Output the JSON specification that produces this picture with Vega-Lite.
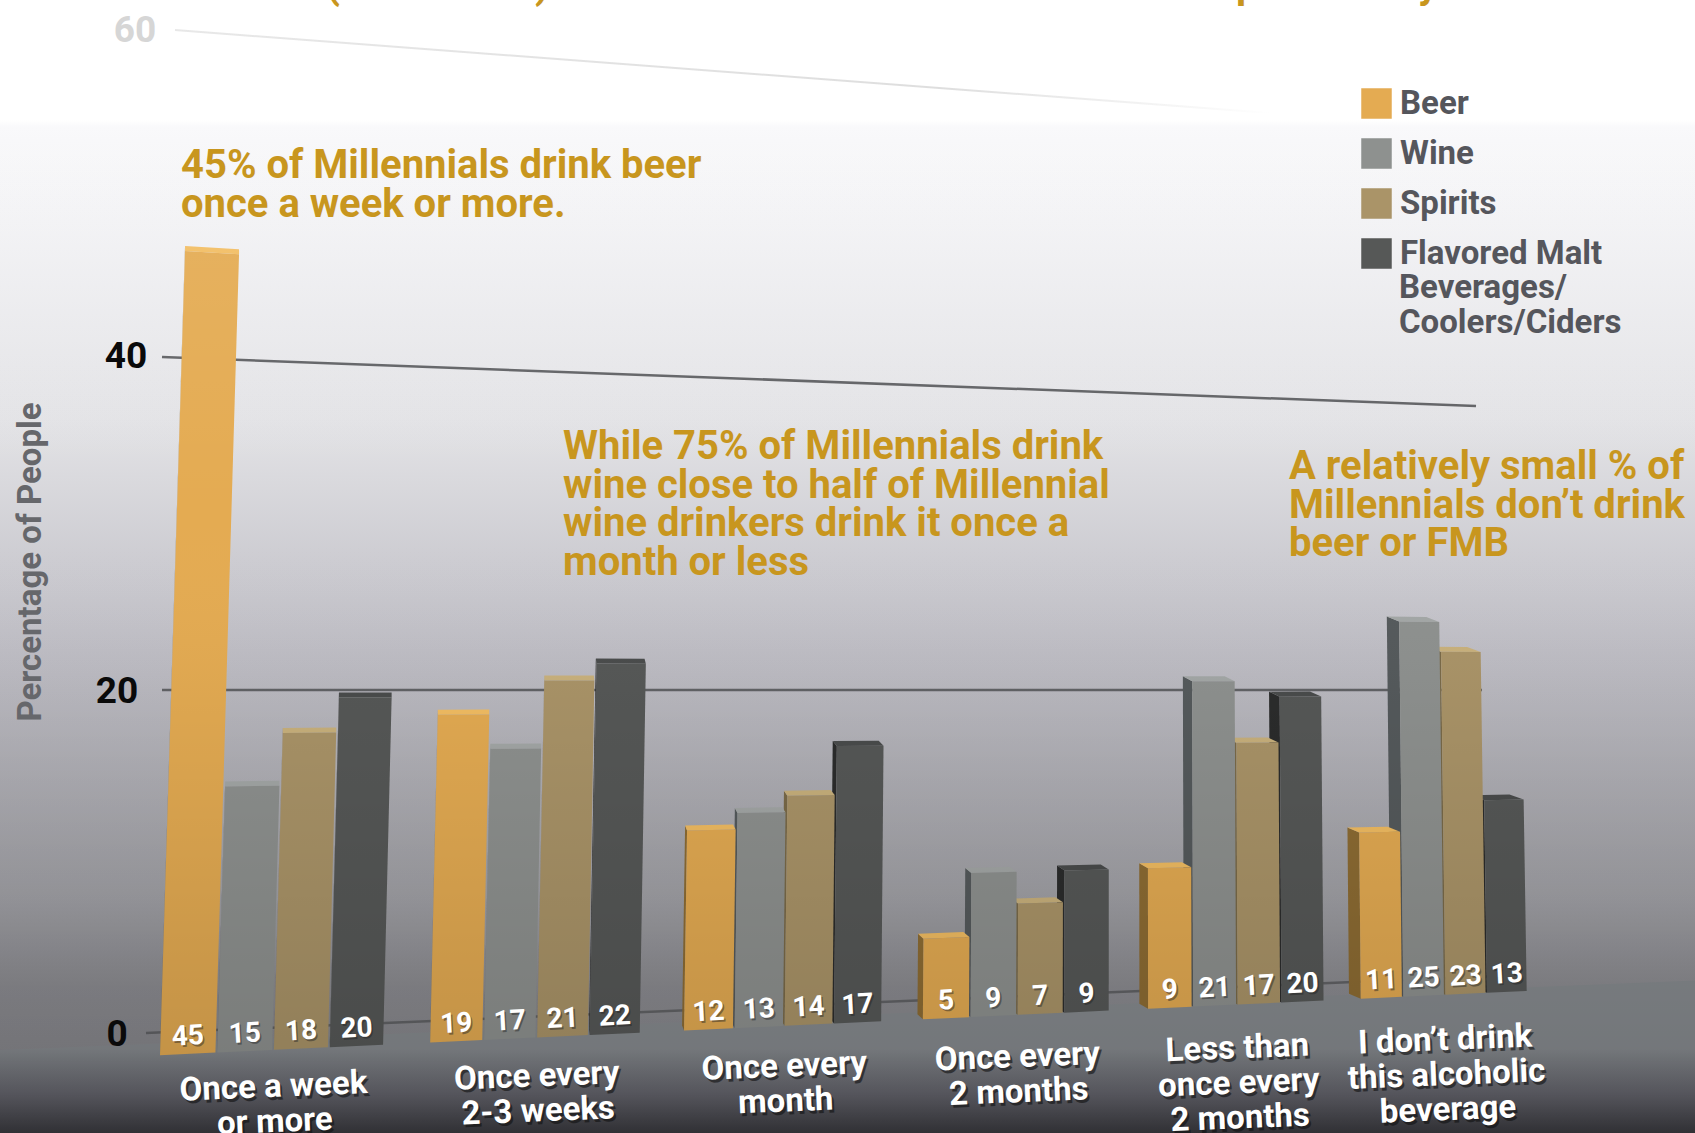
{
  "$schema": "https://vega.github.io/schema/vega-lite/v6.json",
  "width": 1695,
  "height": 1133,
  "padding": 0,
  "autosize": {"type": "none"},
  "config": {
    "view": {"stroke": null},
    "text": {"font": "Roboto"}
  },
  "datasets": {
    "bars": [
      {"group": "Once a week\nor more", "drink": "Beer", "value": 45},
      {"group": "Once a week\nor more", "drink": "Wine", "value": 15},
      {"group": "Once a week\nor more", "drink": "Spirits", "value": 18},
      {"group": "Once a week\nor more", "drink": "Flavored Malt", "value": 20},
      {"group": "Once every\n2-3 weeks", "drink": "Beer", "value": 19},
      {"group": "Once every\n2-3 weeks", "drink": "Wine", "value": 17},
      {"group": "Once every\n2-3 weeks", "drink": "Spirits", "value": 21},
      {"group": "Once every\n2-3 weeks", "drink": "Flavored Malt", "value": 22},
      {"group": "Once every\nmonth", "drink": "Beer", "value": 12},
      {"group": "Once every\nmonth", "drink": "Wine", "value": 13},
      {"group": "Once every\nmonth", "drink": "Spirits", "value": 14},
      {"group": "Once every\nmonth", "drink": "Flavored Malt", "value": 17},
      {"group": "Once every\n2 months", "drink": "Beer", "value": 5},
      {"group": "Once every\n2 months", "drink": "Wine", "value": 9},
      {"group": "Once every\n2 months", "drink": "Spirits", "value": 7},
      {"group": "Once every\n2 months", "drink": "Flavored Malt", "value": 9},
      {"group": "Less than\nonce every\n2 months", "drink": "Beer", "value": 9},
      {"group": "Less than\nonce every\n2 months", "drink": "Wine", "value": 21},
      {"group": "Less than\nonce every\n2 months", "drink": "Spirits", "value": 17},
      {"group": "Less than\nonce every\n2 months", "drink": "Flavored Malt", "value": 20},
      {"group": "I don’t drink\nthis alcoholic\nbeverage", "drink": "Beer", "value": 11},
      {"group": "I don’t drink\nthis alcoholic\nbeverage", "drink": "Wine", "value": 25},
      {"group": "I don’t drink\nthis alcoholic\nbeverage", "drink": "Spirits", "value": 23},
      {"group": "I don’t drink\nthis alcoholic\nbeverage", "drink": "Flavored Malt", "value": 13}
    ],
    "groups": [
      {"group": "Once a week\nor more", "g": 0},
      {"group": "Once every\n2-3 weeks", "g": 1},
      {"group": "Once every\nmonth", "g": 2},
      {"group": "Once every\n2 months", "g": 3},
      {"group": "Less than\nonce every\n2 months", "g": 4},
      {"group": "I don’t drink\nthis alcoholic\nbeverage", "g": 5}
    ],
    "levels": [{"level": 0}, {"level": 20}, {"level": 40}, {"level": 60}]
  },
  "layer": [
    {
      "description": "Backdrop: pale wall darkening towards the floor",
      "data": {"values": [{"panel": "wall"}]},
      "mark": {
        "type": "rect",
        "fill": {
          "gradient": "linear", "x1": 0, "y1": 0, "x2": 0, "y2": 1,
          "stops": [
            {"offset": 0, "color": "#ffffff"},
            {"offset": 0.106, "color": "#ffffff"},
            {"offset": 0.112, "color": "#f9f9fb"},
            {"offset": 0.37, "color": "#e3e3e6"},
            {"offset": 0.574, "color": "#bfbec5"},
            {"offset": 0.794, "color": "#a0a0a5"},
            {"offset": 0.87, "color": "#8b8b90"},
            {"offset": 1, "color": "#808085"}
          ]
        }
      },
      "encoding": {
        "x": {"datum": 0, "type": "quantitative", "axis": null, "scale": {"domain": [0, 1695], "nice": false, "zero": false}},
        "x2": {"datum": 1695},
        "y": {"datum": 0, "type": "quantitative", "axis": null, "scale": {"domain": [1133, 0], "nice": false, "zero": false}},
        "y2": {"datum": 1133}
      }
    },
    {
      "description": "Floor plane running back towards the right",
      "data": {"values": [{"X": 0}, {"X": 1695}]},
      "transform": [{"calculate": "1050 - 0.041 * datum.X", "as": "Y"}],
      "mark": {
        "type": "area",
        "fill": {
          "gradient": "linear", "x1": 0, "y1": 0, "x2": 0, "y2": 1,
          "stops": [
            {"offset": 0, "color": "#868a8e"},
            {"offset": 0.45, "color": "#868a8e"},
            {"offset": 0.75, "color": "#62626a"},
            {"offset": 1, "color": "#38383d"}
          ]
        }
      },
      "encoding": {
        "x": {"field": "X", "type": "quantitative", "axis": null},
        "y": {"field": "Y", "type": "quantitative", "axis": null},
        "y2": {"datum": 1133}
      }
    },
    {
      "description": "Gridlines at 0, 20 and 40 in perspective",
      "data": {"name": "levels"},
      "transform": [
        {"filter": "datum.level < 60"},
        {"calculate": "[146, 162, 162][datum.level / 20]", "as": "x1"},
        {"calculate": "[1520, 1482, 1476][datum.level / 20]", "as": "x2"},
        {"calculate": "[1033, 690, 357][datum.level / 20]", "as": "y1"},
        {"calculate": "[975, 690, 406][datum.level / 20]", "as": "y2"}
      ],
      "mark": {"type": "rule", "strokeWidth": 2.5, "color": "#616265"},
      "encoding": {
        "x": {"field": "x1", "type": "quantitative", "axis": null},
        "x2": {"field": "x2"},
        "y": {"field": "y1", "type": "quantitative", "axis": null},
        "y2": {"field": "y2"}
      }
    },
    {
      "description": "The 60 gridline fades out into the haze",
      "data": {"name": "levels"},
      "transform": [
        {"filter": "datum.level == 60"},
        {"calculate": "175", "as": "x1"},
        {"calculate": "1270", "as": "x2"},
        {"calculate": "30", "as": "y1"},
        {"calculate": "113", "as": "y2"}
      ],
      "mark": {
        "type": "rule",
        "strokeWidth": 2,
        "stroke": {
          "gradient": "linear", "x1": 0, "y1": 0, "x2": 1, "y2": 0,
          "stops": [
            {"offset": 0, "color": "#e6e6e6"},
            {"offset": 0.7, "color": "#dcdcdc"},
            {"offset": 1, "color": "#ffffff"}
          ]
        }
      },
      "encoding": {
        "x": {"field": "x1", "type": "quantitative", "axis": null},
        "x2": {"field": "x2"},
        "y": {"field": "y1", "type": "quantitative", "axis": null},
        "y2": {"field": "y2"}
      }
    },
    {
      "description": "Projected bars: drink and frequency give a slot on the floor, value gives the height",
      "data": {"name": "bars"},
      "transform": [
        {"calculate": "indexof(['Beer', 'Wine', 'Spirits', 'Flavored Malt'], datum.drink)", "as": "s"},
        {"calculate": "indexof(['Once a week\\nor more', 'Once every\\n2-3 weeks', 'Once every\\nmonth', 'Once every\\n2 months', 'Less than\\nonce every\\n2 months', 'I don’t drink\\nthis alcoholic\\nbeverage'], datum.group)", "as": "g"},
        {"calculate": "datum.group + datum.drink", "as": "bar"},
        {"calculate": "[0, 1, 2, 3]", "as": "corner"},
        {"flatten": ["corner"]}
      ],
      "layer": [
        {
          "description": "Left side faces",
          "transform": [
            {"calculate": "datum.g + datum.s * 0.207", "as": "u"},
            {"calculate": "(284.1 * datum.u + 160) / (1 + 0.0323 * datum.u)", "as": "X0"},
            {"calculate": "datum.corner < 2 ? datum.value : 0", "as": "v"},
            {"calculate": "datum.corner == 1 || datum.corner == 2 ? 1 : 0", "as": "back"},
            {"calculate": "datum.X0 + datum.v * 0.00058 * (1120 - datum.X0) - datum.back * max(0, (datum.X0 - 550) * 0.0145)", "as": "px"},
            {"calculate": "1054 - 0.047 * (datum.X0 - 185) - datum.v * (17.87 - 0.0023 * (datum.X0 - 160)) - datum.back * 5", "as": "py"}
          ],
          "mark": {"type": "line", "interpolate": "linear-closed", "strokeWidth": 0},
          "encoding": {
            "x": {"field": "px", "type": "quantitative", "axis": null},
            "y": {"field": "py", "type": "quantitative", "axis": null},
            "order": {"field": "corner"},
            "detail": {"field": "bar"},
            "fill": {
              "field": "drink", "legend": null,
              "scale": {"domain": ["Beer", "Wine", "Spirits", "Flavored Malt"], "range": ["#8d6c33", "#555a5c", "#7a6a48", "#2b2c2c"]}
            }
          }
        },
        {
          "description": "Lit top faces",
          "transform": [
            {"calculate": "datum.g + datum.s * 0.207 + (datum.corner == 1 || datum.corner == 2 ? 0.2 : 0)", "as": "u"},
            {"calculate": "(284.1 * datum.u + 160) / (1 + 0.0323 * datum.u)", "as": "X0"},
            {"calculate": "datum.corner >= 2 ? 1 : 0", "as": "back"},
            {"calculate": "datum.X0 + datum.value * 0.00058 * (1120 - datum.X0) - datum.back * max(0, (datum.X0 - 550) * 0.0145)", "as": "px"},
            {"calculate": "1054 - 0.047 * (datum.X0 - 185) - datum.value * (17.87 - 0.0023 * (datum.X0 - 160)) - datum.back * 5", "as": "py"}
          ],
          "mark": {"type": "line", "interpolate": "linear-closed", "strokeWidth": 0},
          "encoding": {
            "x": {"field": "px", "type": "quantitative", "axis": null},
            "y": {"field": "py", "type": "quantitative", "axis": null},
            "order": {"field": "corner"},
            "detail": {"field": "bar"},
            "fill": {
              "field": "drink", "legend": null,
              "scale": {"domain": ["Beer", "Wine", "Spirits", "Flavored Malt"], "range": ["#f2bd62", "#a3a7a6", "#c9b17c", "#4a4c4c"]}
            }
          }
        },
        {
          "description": "Front faces, which carry the legend",
          "transform": [
            {"calculate": "datum.g + datum.s * 0.207 + (datum.corner == 1 || datum.corner == 2 ? 0.2 : 0)", "as": "u"},
            {"calculate": "(284.1 * datum.u + 160) / (1 + 0.0323 * datum.u)", "as": "X0"},
            {"calculate": "datum.corner < 2 ? datum.value : 0", "as": "v"},
            {"calculate": "datum.X0 + datum.v * 0.00058 * (1120 - datum.X0)", "as": "px"},
            {"calculate": "1054 - 0.047 * (datum.X0 - 185) - datum.v * (17.87 - 0.0023 * (datum.X0 - 160))", "as": "py"}
          ],
          "mark": {"type": "line", "interpolate": "linear-closed", "strokeWidth": 0},
          "encoding": {
            "x": {"field": "px", "type": "quantitative", "axis": null},
            "y": {"field": "py", "type": "quantitative", "axis": null},
            "order": {"field": "corner"},
            "detail": {"field": "bar"},
            "fill": {
              "field": "drink",
              "scale": {"domain": ["Beer", "Wine", "Spirits", "Flavored Malt"], "range": ["#e4ab52", "#8e918f", "#aa9468", "#565857"]},
              "legend": {
                "title": null,
                "orient": "none",
                "legendX": 1360,
                "legendY": 87,
                "symbolType": "square",
                "symbolSize": 930,
                "symbolStrokeWidth": 0,
                "labelFont": "Roboto",
                "labelFontWeight": "bold",
                "labelFontSize": 33,
                "labelColor": "#55565c",
                "labelLimit": 0,
                "labelOffset": 7,
                "rowPadding": 16
              }
            }
          }
        }
      ],
      "resolve": {"scale": {"fill": "independent"}}
    },
    {
      "description": "Shading across the bars and the room",
      "data": {"values": [{"panel": "light"}]},
      "mark": {
        "type": "rect",
        "fill": {
          "gradient": "linear", "x1": 0, "y1": 0, "x2": 0, "y2": 1,
          "stops": [
            {"offset": 0, "color": "rgba(255,255,255,0.07)"},
            {"offset": 0.22, "color": "rgba(255,255,255,0.07)"},
            {"offset": 0.45, "color": "rgba(255,255,255,0)"},
            {"offset": 0.62, "color": "rgba(0,0,0,0.03)"},
            {"offset": 0.935, "color": "rgba(0,0,0,0.14)"},
            {"offset": 1, "color": "rgba(0,0,0,0.14)"}
          ]
        }
      },
      "encoding": {
        "x": {"datum": 0, "type": "quantitative", "axis": null},
        "x2": {"datum": 1695},
        "y": {"datum": 0, "type": "quantitative", "axis": null},
        "y2": {"datum": 1133}
      }
    },
    {
      "description": "Value labels near the foot of each bar, with a soft drop shadow",
      "data": {"name": "bars"},
      "transform": [
        {"calculate": "indexof(['Beer', 'Wine', 'Spirits', 'Flavored Malt'], datum.drink)", "as": "s"},
        {"calculate": "indexof(['Once a week\\nor more', 'Once every\\n2-3 weeks', 'Once every\\nmonth', 'Once every\\n2 months', 'Less than\\nonce every\\n2 months', 'I don’t drink\\nthis alcoholic\\nbeverage'], datum.group)", "as": "g"},
        {"calculate": "datum.g + datum.s * 0.207 + 0.1", "as": "u"},
        {"calculate": "(284.1 * datum.u + 160) / (1 + 0.0323 * datum.u)", "as": "px"},
        {"calculate": "1054 - 0.047 * (datum.px - 185) - 17", "as": "py"}
      ],
      "layer": [
        {
          "mark": {"type": "text", "font": "Roboto", "fontWeight": "bold", "fontSize": 28, "angle": -3, "dx": 1.5, "dy": 2, "color": "#222222", "opacity": 0.45, "baseline": "middle"},
          "encoding": {
            "x": {"field": "px", "type": "quantitative", "axis": null},
            "y": {"field": "py", "type": "quantitative", "axis": null},
            "text": {"field": "value", "type": "quantitative"}
          }
        },
        {
          "mark": {"type": "text", "font": "Roboto", "fontWeight": "bold", "fontSize": 28, "angle": -3, "color": "#ffffff", "baseline": "middle"},
          "encoding": {
            "x": {"field": "px", "type": "quantitative", "axis": null},
            "y": {"field": "py", "type": "quantitative", "axis": null},
            "text": {"field": "value", "type": "quantitative"}
          }
        }
      ]
    },
    {
      "description": "Frequency labels following the slope of the floor",
      "data": {"name": "groups"},
      "transform": [
        {"calculate": "datum.g + 0.41", "as": "u"},
        {"calculate": "(284.1 * datum.u + 160) / (1 + 0.0323 * datum.u)", "as": "px"},
        {"calculate": "1086 - 0.04 * (datum.px - 271) - 15", "as": "py"}
      ],
      "layer": [
        {
          "mark": {"type": "text", "font": "Roboto", "fontWeight": "bold", "fontSize": 33, "lineHeight": 35, "lineBreak": "\n", "angle": -2.3, "align": "center", "baseline": "top", "dx": 2, "dy": 3, "color": "#111111", "opacity": 0.6},
          "encoding": {
            "x": {"field": "px", "type": "quantitative", "axis": null},
            "y": {"field": "py", "type": "quantitative", "axis": null},
            "text": {"field": "group"}
          }
        },
        {
          "mark": {"type": "text", "font": "Roboto", "fontWeight": "bold", "fontSize": 33, "lineHeight": 35, "lineBreak": "\n", "angle": -2.3, "align": "center", "baseline": "top", "color": "#ffffff"},
          "encoding": {
            "x": {"field": "px", "type": "quantitative", "axis": null},
            "y": {"field": "py", "type": "quantitative", "axis": null},
            "text": {"field": "group"}
          }
        }
      ]
    },
    {
      "description": "Percentage tick labels beside the gridlines",
      "data": {"name": "levels"},
      "transform": [
        {"calculate": "[117, 117, 126, 135][datum.level / 20]", "as": "px"},
        {"calculate": "[1035, 692, 357, 31][datum.level / 20]", "as": "py"},
        {"calculate": "datum.level == 60 ? 'faded' : 'solid'", "as": "tone"}
      ],
      "mark": {"type": "text", "font": "Roboto", "fontWeight": "bold", "fontSize": 37, "baseline": "middle"},
      "encoding": {
        "x": {"field": "px", "type": "quantitative", "axis": null},
        "y": {"field": "py", "type": "quantitative", "axis": null},
        "text": {"field": "level", "type": "quantitative"},
        "color": {"field": "tone", "legend": null, "scale": {"domain": ["faded", "solid"], "range": ["#d6d6d6", "#0a0a0a"]}}
      }
    },
    {
      "description": "Axis title",
      "data": {"values": [{"t": "Percentage of People", "px": 31, "py": 562}]},
      "mark": {"type": "text", "font": "Roboto", "fontWeight": "bold", "fontSize": 33, "angle": -90, "color": "#66676b", "baseline": "middle"},
      "encoding": {
        "x": {"field": "px", "type": "quantitative", "axis": null},
        "y": {"field": "py", "type": "quantitative", "axis": null},
        "text": {"field": "t"}
      }
    },
    {
      "description": "Remaining lines of the long legend entry",
      "data": {"values": [{"t": "Beverages/\nCoolers/Ciders", "px": 1399, "py": 272}]},
      "mark": {"type": "text", "font": "Roboto", "fontWeight": "bold", "fontSize": 33, "lineHeight": 34.5, "lineBreak": "\n", "align": "left", "baseline": "top", "color": "#55565c"},
      "encoding": {
        "x": {"field": "px", "type": "quantitative", "axis": null},
        "y": {"field": "py", "type": "quantitative", "axis": null},
        "text": {"field": "t"}
      }
    },
    {
      "description": "Call-outs, and the descenders of the heading trimmed by the top edge",
      "data": {"values": [
        {"t": "45% of Millennials drink beer\nonce a week or more.", "px": 181, "py": 146},
        {"t": "While 75% of Millennials drink\nwine close to half of Millennial\nwine drinkers drink it once a\nmonth or less", "px": 563, "py": 427},
        {"t": "A relatively small % of\nMillennials don’t drink\nbeer or FMB", "px": 1289, "py": 447},
        {"t": "(", "px": 326, "py": -34},
        {"t": ")", "px": 535, "py": -34},
        {"t": "p", "px": 1236, "py": -34},
        {"t": "y", "px": 1418, "py": -34}
      ]},
      "mark": {"type": "text", "font": "Roboto", "fontWeight": "bold", "fontSize": 40, "lineHeight": 38.5, "lineBreak": "\n", "align": "left", "baseline": "top", "color": "#c8961e"},
      "encoding": {
        "x": {"field": "px", "type": "quantitative", "axis": null},
        "y": {"field": "py", "type": "quantitative", "axis": null},
        "text": {"field": "t"}
      }
    }
  ],
  "resolve": {"scale": {"fill": "independent", "color": "independent"}}
}
